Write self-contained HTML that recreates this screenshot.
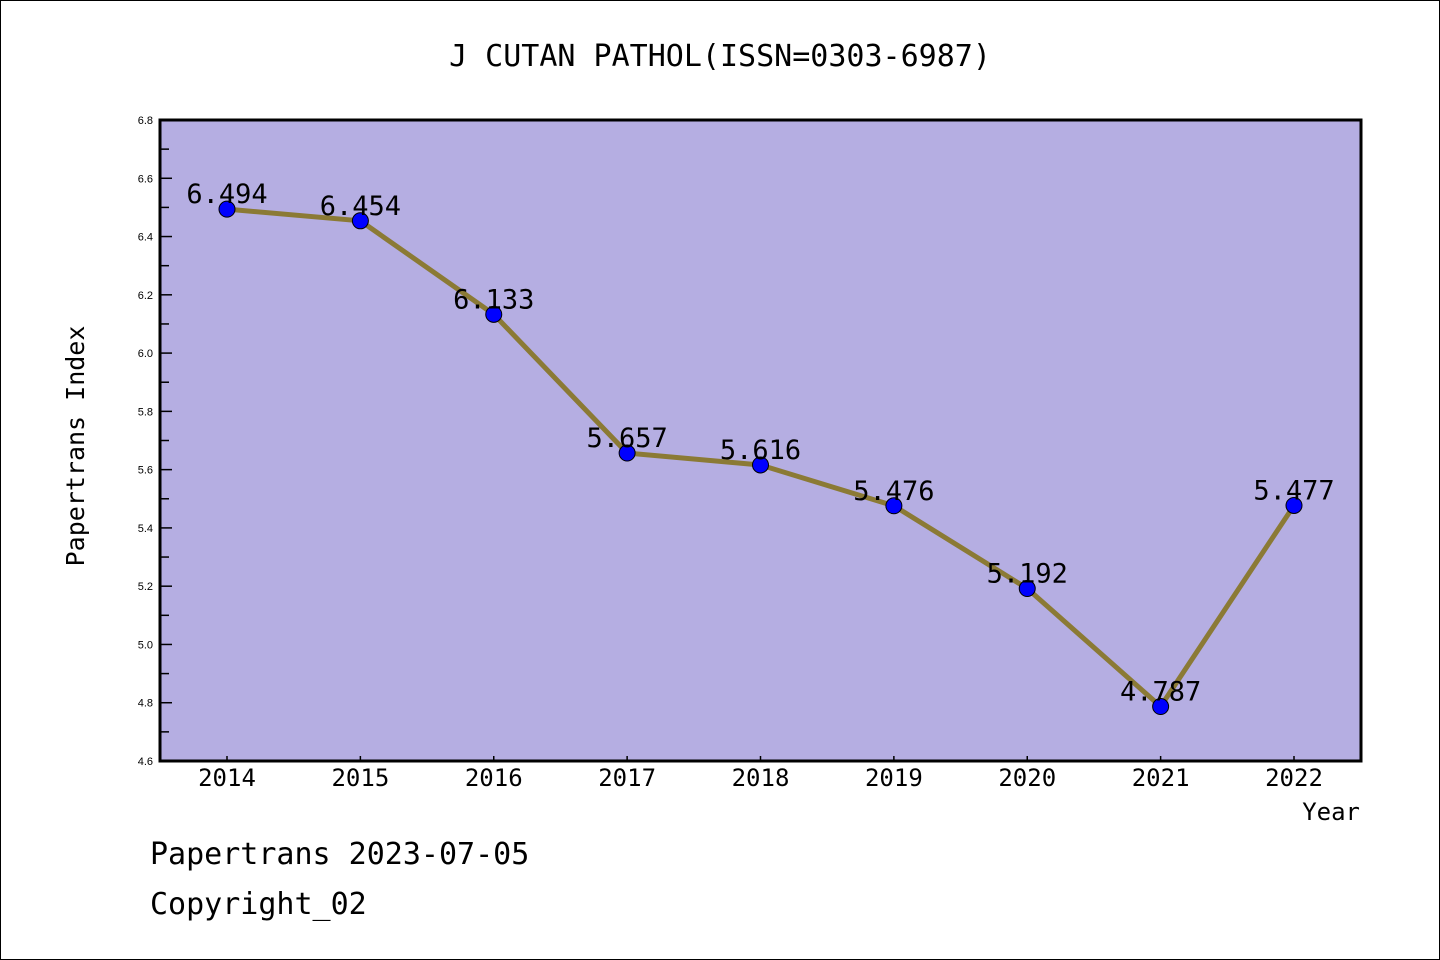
<!DOCTYPE html>
<html><head><meta charset="utf-8"><style>
body{margin:0;background:#fff}
svg{display:block}
text{font-family:"DejaVu Sans Mono","Liberation Mono",monospace;fill:#000}
text.small{font-family:"Liberation Sans",sans-serif}
</style></head><body>
<svg width="1440" height="960">
<rect x="0.5" y="0.5" width="1439" height="959" fill="#fff" stroke="#000"/>
<text x="720" y="66" font-size="30" text-anchor="middle">J CUTAN PATHOL(ISSN=0303-6987)</text>
<rect x="160" y="120" width="1201" height="641" fill="#b5aee2"/>
<g id="axes"></g>
<g id="marks"></g>
<rect x="160" y="120" width="1201" height="641" fill="none" stroke="#000" stroke-width="3"/>
<text transform="translate(84,446) rotate(-90)" font-size="25" text-anchor="middle">Papertrans Index</text>
<text x="1360" y="820" font-size="24" text-anchor="end">Year</text>
<text x="150" y="864" font-size="30">Papertrans 2023-07-05</text>
<text x="150" y="914" font-size="30">Copyright_02</text>
</svg>
<script>
const years=["2014","2015","2016","2017","2018","2019","2020","2021","2022"];
const values=[6.494,6.454,6.133,5.657,5.616,5.476,5.192,4.787,5.477];
const labels=["6.494","6.454","6.133","5.657","5.616","5.476","5.192","4.787","5.477"];
const yTicks=["4.6","4.8","5.0","5.2","5.4","5.6","5.8","6.0","6.2","6.4","6.6","6.8"];
const NS="http://www.w3.org/2000/svg";
const yMin=4.6,yMax=6.8;
function ys(v){return 761-(v-yMin)/(yMax-yMin)*641;}
function xs(i){return 227+i*(1294-227)/(years.length-1);}
function mk(t,a,p){const e=document.createElementNS(NS,t);for(const k in a)e.setAttribute(k,a[k]);p.appendChild(e);return e;}
const ax=document.getElementById('axes'),mg=document.getElementById('marks');
yTicks.forEach((t,i)=>{const v=parseFloat(t);const y=ys(v);
const l=mk('line',{x1:160,x2:172,y1:y,y2:y,stroke:'#000','stroke-width':1.5},ax);


const tx=mk('text',{x:153,y:y+4,'font-size':11,'text-anchor':'end','class':'small'},ax);tx.textContent=t;


if(i<yTicks.length-1){const ym=ys(v+0.1);
const m=mk('line',{x1:160,x2:169,y1:ym,y2:ym,stroke:'#000','stroke-width':1.5},ax);

}
});
years.forEach((yr,i)=>{const x=xs(i);
const l=mk('line',{x1:x,x2:x,y1:756,y2:761,stroke:'#000','stroke-width':1.5},ax);


const t=mk('text',{x:x,y:786,'font-size':24,'text-anchor':'middle'},ax);t.textContent=yr;


});
const pl=mk('polyline',{points:values.map((v,i)=>xs(i)+','+ys(v)).join(' '),fill:'none',stroke:'#8b7a35','stroke-width':5,'stroke-linejoin':'round'},mg);


values.forEach((v,i)=>{
const c=mk('circle',{cx:xs(i),cy:ys(v),r:8,fill:'#0000ff',stroke:'#000','stroke-width':1},mg);


const t=mk('text',{x:xs(i),y:ys(v)-6,'font-size':27,'text-anchor':'middle'},mg);t.textContent=labels[i];


});
</script>
</body></html>
